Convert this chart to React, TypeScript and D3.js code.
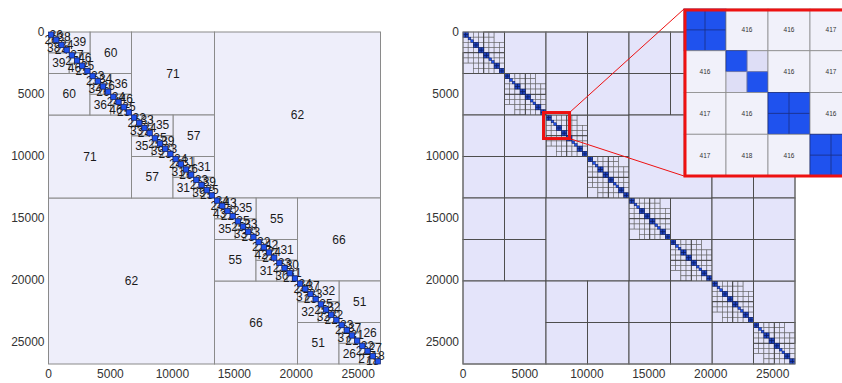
import React from 'react';
import * as d3 from 'd3';

// matrix size and axis ticks
const N = 26800;
const tickValues = [0, 5000, 10000, 15000, 20000, 25000];

// ranks of the off-diagonal blocks, one array per level of the cluster tree (left panel)
const ranksLevel1 = [62];
const ranksLevel2 = [71, 66];
const ranksLevel3 = [60, 57, 55, 51];
const ranksLevel4 = [39, 36, 35, 31, 35, 31, 32, 26];
const ranksLevel5 = [38, 46, 34, 46, 33, 39, 31, 39, 43, 33, 42, 30, 37, 32, 37, 27];
const ranksLevel6 = [26, 24, 27, 25, 23, 26, 24, 25, 22, 24, 25, 23, 24, 26, 23, 25,
  24, 22, 25, 23, 22, 24, 23, 21, 24, 23, 25, 22, 23, 21, 22, 18];
const rankLevels = [ranksLevel1, ranksLevel2, ranksLevel3, ranksLevel4, ranksLevel5, ranksLevel6];

// right panel: far-field blocks in units of N/8 [row0,row1,col0,col1], upper part (mirrored below)
const tileBlocks = [
  [0, 1, 1, 2], [2, 3, 3, 4], [4, 5, 5, 6], [6, 7, 7, 8],
  [0, 1, 2, 3], [0, 1, 3, 4], [1, 2, 2, 3], [1, 2, 3, 4],
  [0, 1, 4, 5], [0, 1, 5, 6], [1, 2, 4, 5], [1, 2, 5, 6],
  [0, 2, 6, 8],
  [2, 4, 4, 6],
  [2, 3, 6, 7], [2, 3, 7, 8], [3, 4, 6, 7], [3, 4, 7, 8],
  [4, 5, 6, 7], [4, 5, 7, 8], [5, 6, 6, 7], [5, 6, 7, 8],
];

// zoomed inset (4x4 leaf blocks), diagonal cells are dense (null)
const insetLabels = [
  [null, 416, 416, 417],
  [416, null, 416, 417],
  [417, 416, null, 416],
  [417, 418, 416, null],
];
const insetSplitDiag = [false, true, false, false];
const zoomRange = [6500, 8600];

const FONT = '"Liberation Sans", Arial, sans-serif';
const BLUE = '#1f52ee';

type Blk = { r0: number; r1: number; c0: number; c1: number; label?: number; leaf?: boolean };

// blocks in drawing order: each block's fill and text, then its children
function buildLeft() {
  const items: Blk[] = [];
  const rec = (lo: number, hi: number, level: number) => {
    if (level === rankLevels.length) {
      items.push({ r0: lo, r1: hi, c0: lo, c1: hi, leaf: true });
      return;
    }
    const mid = (lo + hi) / 2;
    const idx = Math.round(lo / (hi - lo));
    const rank = rankLevels[level][idx];
    items.push({ r0: lo, r1: mid, c0: mid, c1: hi, label: rank });
    items.push({ r0: mid, r1: hi, c0: lo, c1: mid, label: rank });
    rec(lo, mid, level + 1);
    rec(mid, hi, level + 1);
  };
  rec(0, N, 0);
  return items;
}

function LeftPanel() {
  const x = d3.scaleLinear().domain([0, N]).range([48.5, 380.5]);
  const y = d3.scaleLinear().domain([0, N]).range([32, 364]);
  const items = buildLeft();
  return (
    <g>
      {items.map((b, i) => (
        <g key={i}>
          <rect x={x(b.c0)} y={y(b.r0)} width={x(b.c1) - x(b.c0)} height={y(b.r1) - y(b.r0)}
            fill={b.leaf ? BLUE : '#eeeefa'} stroke={b.leaf ? '#10206a' : '#8a8a8a'} strokeWidth={b.leaf ? 0.7 : 1} />
          {b.leaf ? null : (
            <text x={x((b.c0 + b.c1) / 2)} y={y((b.r0 + b.r1) / 2)} textAnchor="middle"
              dominantBaseline="central" fontSize={12} fontFamily={FONT} fill="#1a1a1a">{b.label}</text>
          )}
        </g>
      ))}
      <Axes x={x} y={y} />
    </g>
  );
}

function Axes({ x, y }: { x: d3.ScaleLinear<number, number>; y: d3.ScaleLinear<number, number> }) {
  const left = x.range()[0];
  return (
    <g fontFamily={FONT} fontSize={12} fill="#333">
      {tickValues.map((v) => (
        <text key={'y' + v} x={left - 4} y={y(v)} textAnchor="end" dominantBaseline="central">{v}</text>
      ))}
      {tickValues.map((v) => (
        <text key={'x' + v} x={x(v)} y={374} textAnchor="middle" dominantBaseline="central">{v}</text>
      ))}
    </g>
  );
}

// fine structure inside one dense diagonal tile of the right panel
function diagTile(t0: number, T: number) {
  const plain: Blk[] = [];
  const dense: { r0: number; s: number; split: boolean }[] = [];
  const h = T / 2, q = T / 4, c = T / 8;
  for (let s = 0; s < 2; s++) {
    const a = t0 + s * h;
    for (let i = 0; i < 4; i++) {
      for (let j = 0; j < 4; j++) {
        if (i === j) dense.push({ r0: a + i * c, s: c, split: insetSplitDiag[i] });
        else plain.push({ r0: a + i * c, r1: a + (i + 1) * c, c0: a + j * c, c1: a + (j + 1) * c });
      }
    }
  }
  const halves: Blk[] = [];
  for (let i = 0; i < 2; i++) {
    for (let j = 0; j < 2; j++) {
      const r0 = t0 + i * q, c0 = t0 + h + j * q;
      if (i === 0 && j === 1) {
        halves.push({ r0, r1: r0 + q, c0, c1: c0 + q });
      } else {
        for (let a = 0; a < 2; a++) for (let b = 0; b < 2; b++) {
          halves.push({ r0: r0 + a * c, r1: r0 + (a + 1) * c, c0: c0 + b * c, c1: c0 + (b + 1) * c });
        }
      }
    }
  }
  halves.forEach((b) => {
    plain.push(b);
    plain.push({ r0: b.c0, r1: b.c1, c0: b.r0, c1: b.r1 });
  });
  return { plain, dense };
}

function RightPanel() {
  const x = d3.scaleLinear().domain([0, N]).range([463, 795]);
  const y = d3.scaleLinear().domain([0, N]).range([32, 364]);
  const T = N / 8;
  const big: Blk[] = [];
  tileBlocks.forEach(([r0, r1, c0, c1]) => {
    big.push({ r0: r0 * T, r1: r1 * T, c0: c0 * T, c1: c1 * T });
    big.push({ r0: c0 * T, r1: c1 * T, c0: r0 * T, c1: r1 * T });
  });
  const plain: Blk[] = [];
  const dense: { r0: number; s: number; split: boolean }[] = [];
  const diagOutline: Blk[] = [];
  for (let t = 0; t < 8; t++) {
    const d = diagTile(t * T, T);
    plain.push(...d.plain);
    dense.push(...d.dense);
    diagOutline.push({ r0: t * T, r1: t * T + T / 2, c0: t * T + T / 2, c1: (t + 1) * T });
    diagOutline.push({ r0: t * T + T / 2, r1: (t + 1) * T, c0: t * T, c1: t * T + T / 2 });
  }
  const w = (b: Blk) => x(b.c1) - x(b.c0);
  const hgt = (b: Blk) => y(b.r1) - y(b.r0);
  return (
    <g>
      <rect x={x(0)} y={y(0)} width={x(N) - x(0)} height={y(N) - y(0)} fill="#e4e4fa" />
      {plain.map((b, i) => (
        <rect key={'p' + i} x={x(b.c0)} y={y(b.r0)} width={w(b)} height={hgt(b)}
          fill="#e4e4fa" stroke="#666" strokeWidth={0.6} />
      ))}
      {diagOutline.map((b, i) => (
        <rect key={'o' + i} x={x(b.c0)} y={y(b.r0)} width={w(b)} height={hgt(b)}
          fill="none" stroke="#333" strokeWidth={0.8} />
      ))}
      {dense.map((d, i) => {
        const px = x(d.r0), py = y(d.r0), s = x(d.r0 + d.s) - x(d.r0);
        return d.split ? (
          <g key={'d' + i}>
            <rect x={px} y={py} width={s / 2} height={s / 2} fill={BLUE} stroke="#0b1a5c" strokeWidth={0.5} />
            <rect x={px + s / 2} y={py + s / 2} width={s / 2} height={s / 2} fill={BLUE} stroke="#0b1a5c" strokeWidth={0.5} />
          </g>
        ) : (
          <g key={'d' + i}>
            <rect x={px} y={py} width={s} height={s} fill="#1f46c8" stroke="#0b1a5c" strokeWidth={0.6} />
            <line x1={px + s / 2} x2={px + s / 2} y1={py} y2={py + s} stroke="#0b1a5c" strokeWidth={0.8} />
            <line x1={px} x2={px + s} y1={py + s / 2} y2={py + s / 2} stroke="#0b1a5c" strokeWidth={0.8} />
          </g>
        );
      })}
      {big.map((b, i) => (
        <rect key={'g' + i} x={x(b.c0)} y={y(b.r0)} width={w(b)} height={hgt(b)}
          fill="#e4e4fa" stroke="#4d4d4d" strokeWidth={1} />
      ))}
      <rect x={x(0)} y={y(0)} width={x(N) - x(0)} height={y(N) - y(0)} fill="none" stroke="#777" strokeWidth={1} />
      <Axes x={x} y={y} />
      <Inset x={x} y={y} />
    </g>
  );
}

function Inset({ x, y }: { x: d3.ScaleLinear<number, number>; y: d3.ScaleLinear<number, number> }) {
  const n = insetLabels.length;
  const ix = d3.scaleLinear().domain([0, n]).range([684, 852]);
  const iy = d3.scaleLinear().domain([0, n]).range([9, 176]);
  const bx0 = x(zoomRange[0]), bx1 = x(zoomRange[1]);
  const by0 = y(zoomRange[0]), by1 = y(zoomRange[1]);
  const cells: React.ReactNode[] = [];
  insetLabels.forEach((row, i) => {
    row.forEach((lab, j) => {
      const cx = ix(j), cy = iy(i), cw = ix(j + 1) - ix(j), ch = iy(i + 1) - iy(i);
      if (lab !== null) {
        cells.push(
          <g key={`c${i}-${j}`}>
            <rect x={cx} y={cy} width={cw} height={ch} fill="#f1f1fa" stroke="#8c8c8c" strokeWidth={0.8} />
            <text x={cx + cw / 2} y={cy + ch / 2} textAnchor="middle" dominantBaseline="central"
              fontSize={6.5} fontFamily={FONT} fill="#333">{lab}</text>
          </g>
        );
      } else if (insetSplitDiag[i]) {
        cells.push(
          <g key={`c${i}-${j}`}>
            <rect x={cx} y={cy} width={cw} height={ch} fill="#dedef6" stroke="#8c8c8c" strokeWidth={0.8} />
            <rect x={cx} y={cy} width={cw / 2} height={ch / 2} fill={BLUE} stroke="#1a2d80" strokeWidth={0.6} />
            <rect x={cx + cw / 2} y={cy + ch / 2} width={cw / 2} height={ch / 2} fill={BLUE} stroke="#1a2d80" strokeWidth={0.6} />
            <line x1={cx + cw / 2} x2={cx + cw / 2} y1={cy} y2={cy + ch} stroke="#9a9ab8" strokeWidth={0.6} />
            <line x1={cx} x2={cx + cw} y1={cy + ch / 2} y2={cy + ch / 2} stroke="#9a9ab8" strokeWidth={0.6} />
          </g>
        );
      } else {
        cells.push(
          <g key={`c${i}-${j}`}>
            <rect x={cx} y={cy} width={cw} height={ch} fill={BLUE} stroke="#1a2d80" strokeWidth={0.8} />
            <line x1={cx + cw / 2} x2={cx + cw / 2} y1={cy} y2={cy + ch} stroke="#1a2d80" strokeWidth={0.8} />
            <line x1={cx} x2={cx + cw} y1={cy + ch / 2} y2={cy + ch / 2} stroke="#1a2d80" strokeWidth={0.8} />
          </g>
        );
      }
    });
  });
  return (
    <g>
      <line x1={bx1} y1={by0} x2={ix(0)} y2={iy(0)} stroke="#ee1111" strokeWidth={1} />
      <line x1={bx1} y1={by1} x2={ix(0)} y2={iy(n)} stroke="#ee1111" strokeWidth={1} />
      <rect x={bx0} y={by0} width={bx1 - bx0} height={by1 - by0} fill="none" stroke="#ee1111" strokeWidth={3} />
      <rect x={ix(0)} y={iy(0)} width={ix(n) - ix(0)} height={iy(n) - iy(0)} fill="#f1f1fa" />
      {cells}
      <rect x={ix(0) + 1} y={iy(0) + 1} width={ix(n) - ix(0)} height={iy(n) - iy(0) - 1} fill="none" stroke="#ee1111" strokeWidth={3} />
    </g>
  );
}

export default function App() {
  return (
    <svg width={842} height={383} style={{ position: 'absolute', left: 0, top: 0, background: '#fff' }}>
      <LeftPanel />
      <RightPanel />
    </svg>
  );
}
